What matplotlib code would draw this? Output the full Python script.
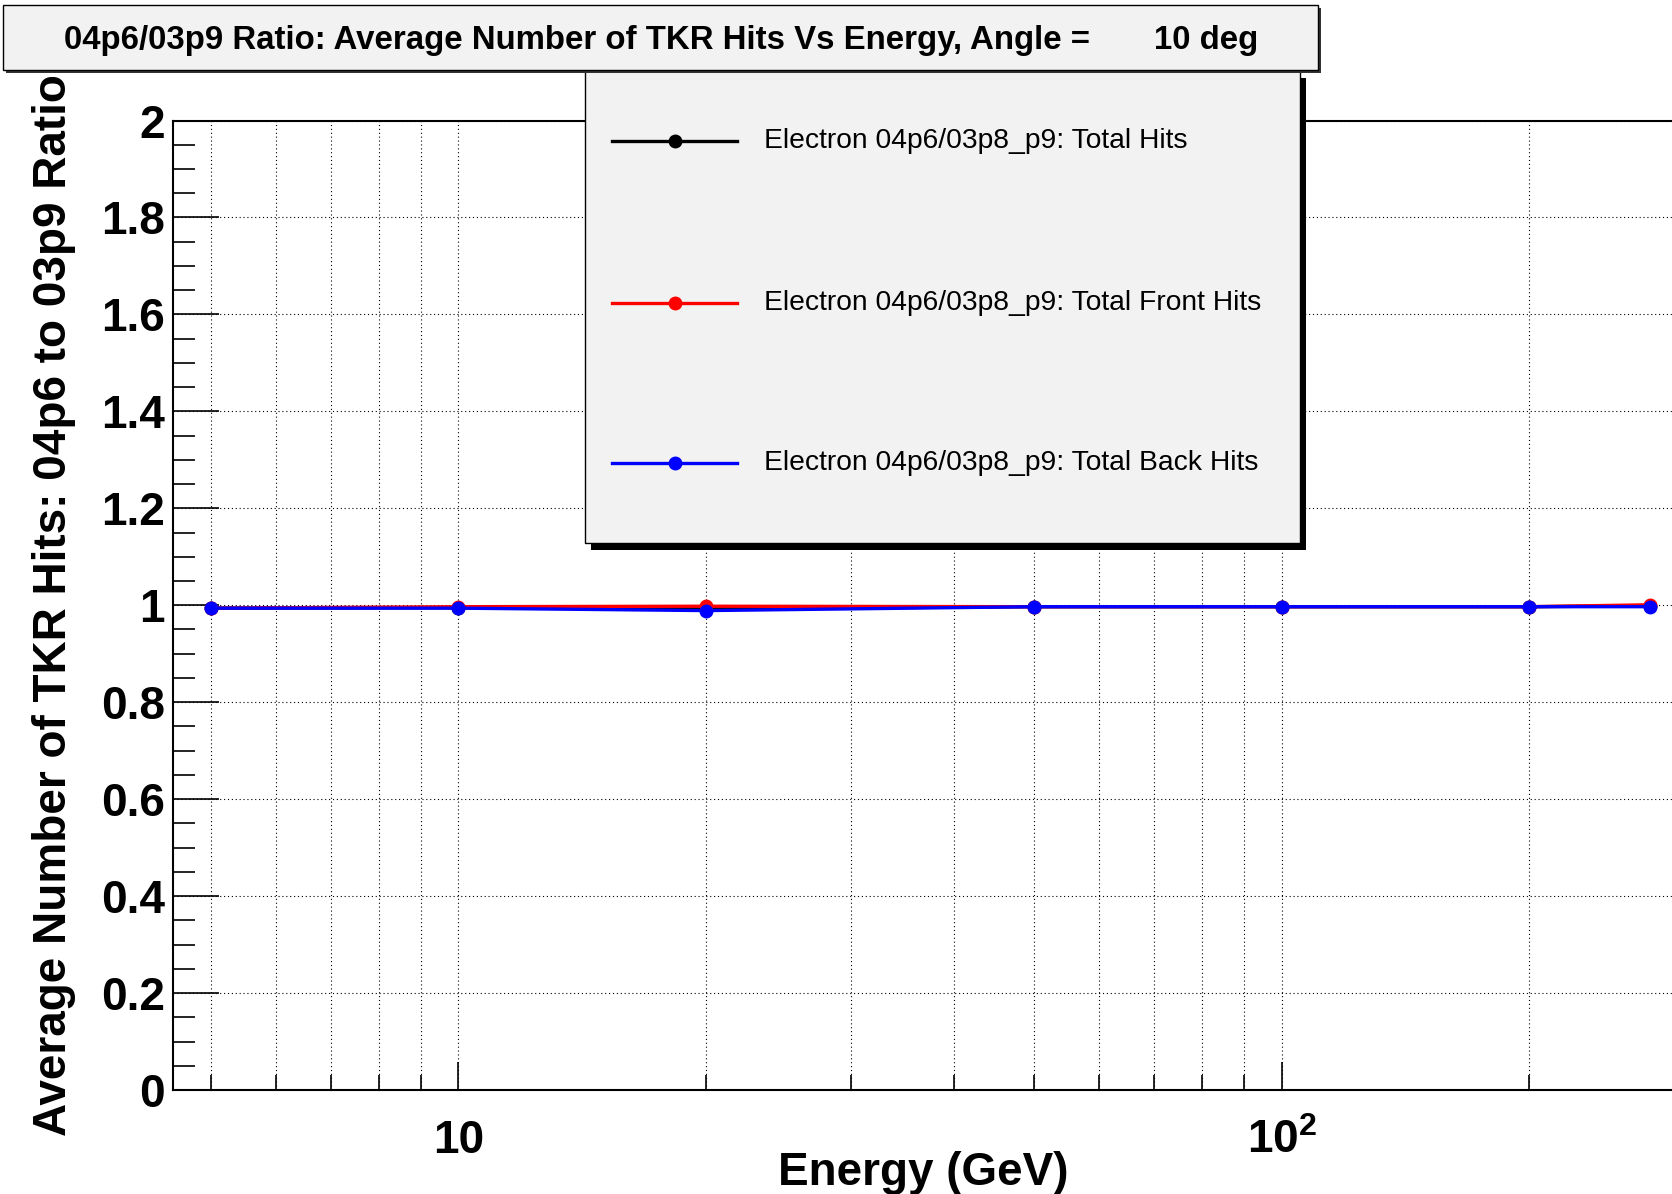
import matplotlib
matplotlib.use('Agg')
import matplotlib.pyplot as plt
from matplotlib.patches import Rectangle
from matplotlib.lines import Line2D
from matplotlib.ticker import LogLocator, MultipleLocator, FuncFormatter, NullFormatter

plt.rcParams['font.family'] = ['Liberation Sans', 'DejaVu Sans']
plt.rcParams['mathtext.fontset'] = 'custom'
plt.rcParams['mathtext.rm'] = 'Liberation Sans:bold'
plt.rcParams['mathtext.bf'] = 'Liberation Sans:bold'

# data (ratio 04p6 / 03p9)
energy = [5, 10, 20, 50, 100, 200, 280]
ratio_total = [0.994, 0.995, 0.993, 0.997, 0.997, 0.997, 0.999]
ratio_front = [0.994, 0.997, 0.998, 0.997, 0.997, 0.997, 1.001]
ratio_back = [0.994, 0.994, 0.989, 0.997, 0.997, 0.997, 0.997]

series_labels = ["Electron 04p6/03p8_p9: Total Hits",
                 "Electron 04p6/03p8_p9: Total Front Hits",
                 "Electron 04p6/03p8_p9: Total Back Hits"]
series_colors = ["black", "red", "blue"]

title_txt = "04p6/03p9 Ratio: Average Number of TKR Hits Vs Energy, Angle =       10 deg"

W, H = 1672, 1194
fig = plt.figure(figsize=(W / 100, H / 100), dpi=100)
fig.patch.set_facecolor('white')


def fx(px):
    return px / W


def fy(py):
    return 1 - py / H


# axes frame, right side runs off the picture
ax = fig.add_axes([fx(173), fy(1090), (1674.4 - 173) / W, (1090 - 120.5) / H])
ax.set_xscale('log')
ax.set_xlim(4.5, 300)
ax.set_ylim(0, 2)

ax.set_xticks([10, 100], labels=['10', r'$10^{2}$'])
ax.xaxis.set_minor_locator(LogLocator(base=10, subs=range(2, 10)))
ax.xaxis.set_minor_formatter(NullFormatter())
ax.yaxis.set_major_locator(MultipleLocator(0.2))
ax.yaxis.set_minor_locator(MultipleLocator(0.05))
ax.yaxis.set_major_formatter(FuncFormatter(lambda v, p: '%g' % round(v, 2)))

ax.tick_params(axis='y', which='major', direction='in', length=33, width=1.2, pad=6,
               labelsize=33)
ax.tick_params(axis='y', which='minor', direction='in', length=16, width=1.2)
ax.tick_params(axis='x', which='major', direction='in', length=20, width=1.2, pad=21,
               labelsize=33)
ax.tick_params(axis='x', which='minor', direction='in', length=11, width=1.2)
for lab in ax.get_xticklabels() + ax.get_yticklabels():
    lab.set_fontweight('bold')

for s in ['left', 'bottom', 'top']:
    ax.spines[s].set_linewidth(1.5)
ax.spines['right'].set_visible(False)

ax.grid(axis='x', which='both', color='black', linestyle=(0, (1, 2.5)), linewidth=0.8)
ax.grid(axis='y', which='major', color='black', linestyle=(0, (1, 2.5)), linewidth=0.8)
ax.set_axisbelow(True)

for yv, col in zip([ratio_total, ratio_front, ratio_back], series_colors):
    ax.plot(energy, yv, color=col, linewidth=2.4, marker='o', markersize=9, clip_on=False)

ax.set_xlabel("Energy (GeV)", fontsize=33, fontweight='bold')
ax.xaxis.set_label_coords(0.4995, -0.086)
ax.xaxis.label.set_va('center')
ax.set_ylabel("Average Number of TKR Hits: 04p6 to 03p9 Ratio", fontsize=33, fontweight='bold')
ax.yaxis.set_label_coords(-0.0795, 0.5)
ax.yaxis.label.set_va('center')

# legend box (ROOT style, with shadow)
lx0, lx1, ly0, ly1 = 585, 1300, 71, 543
fig.patches.append(Rectangle((fx(lx0 + 6), fy(ly1 + 7)), (lx1 - lx0) / W, (ly1 - ly0) / H,
                             transform=fig.transFigure, facecolor='black', edgecolor='none', zorder=5))
fig.patches.append(Rectangle((fx(lx0), fy(ly1)), (lx1 - lx0) / W, (ly1 - ly0) / H,
                             transform=fig.transFigure, facecolor='#f2f2f2', edgecolor='black',
                             linewidth=1, zorder=6))
entry_y = [141, 303, 463]
for ey, lab, col in zip(entry_y, series_labels, series_colors):
    fig.lines.append(Line2D([fx(612), fx(737)], [fy(ey), fy(ey)], transform=fig.transFigure,
                            color=col, linewidth=2.4, zorder=7))
    fig.lines.append(Line2D([fx(675)], [fy(ey)], transform=fig.transFigure, color=col,
                            marker='o', markersize=9, zorder=7))
    fig.text(fx(764), fy(ey), lab, fontsize=20.3, va='center', ha='left', zorder=8)

# title box
tx0, tx1, ty0, ty1 = 3, 1318, 5, 70
fig.patches.append(Rectangle((fx(tx0 + 3), fy(ty1 + 3)), (tx1 - tx0) / W, (ty1 - ty0) / H,
                             transform=fig.transFigure, facecolor='#333333', edgecolor='none', zorder=9))
fig.patches.append(Rectangle((fx(tx0), fy(ty1)), (tx1 - tx0) / W, (ty1 - ty0) / H,
                             transform=fig.transFigure, facecolor='#f2f2f2', edgecolor='black',
                             linewidth=1, zorder=10))
fig.text(fx(64), fy(40), title_txt, fontsize=23.8, fontweight='bold', va='center', ha='left',
         zorder=11)

fig.savefig('out.png', dpi=100)
